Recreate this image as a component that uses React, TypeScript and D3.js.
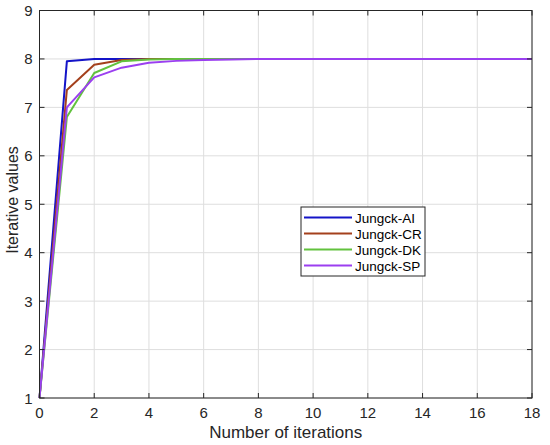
import { useEffect, useRef } from "react"
import * as d3 from "d3"

const iterations = [0, 1, 2, 3, 4, 5, 6, 7, 8, 9, 10, 11, 12, 13, 14, 15, 16, 17, 18]
const jungckAI = [1, 7.95, 8.0, 8.0, 8.0, 8.0, 8.0, 8.0, 8.0, 8.0, 8.0, 8.0, 8.0, 8.0, 8.0, 8.0, 8.0, 8.0, 8.0]
const jungckCR = [1, 7.36, 7.88, 7.98, 8.0, 8.0, 8.0, 8.0, 8.0, 8.0, 8.0, 8.0, 8.0, 8.0, 8.0, 8.0, 8.0, 8.0, 8.0]
const jungckDK = [1, 6.8, 7.71, 7.95, 7.99, 8.0, 8.0, 8.0, 8.0, 8.0, 8.0, 8.0, 8.0, 8.0, 8.0, 8.0, 8.0, 8.0, 8.0]
const jungckSP = [1, 7.0, 7.62, 7.82, 7.92, 7.96, 7.98, 7.99, 8.0, 8.0, 8.0, 8.0, 8.0, 8.0, 8.0, 8.0, 8.0, 8.0, 8.0]

const xTicks = [0, 2, 4, 6, 8, 10, 12, 14, 16, 18]
const yTicks = [1, 2, 3, 4, 5, 6, 7, 8, 9]

const series = [
  { label: "Jungck-AI", values: jungckAI, color: "#1414c8" },
  { label: "Jungck-CR", values: jungckCR, color: "#a4401c" },
  { label: "Jungck-DK", values: jungckDK, color: "#62c23e" },
  { label: "Jungck-SP", values: jungckSP, color: "#9b3ff0" },
]

export default function App() {
  const svgRef = useRef<SVGSVGElement>(null)

  useEffect(() => {
    if (!svgRef.current) return
    const svg = d3.select(svgRef.current)
    svg.selectAll("*").remove()

    const left = 39.5
    const right = 532
    const top = 10.5
    const bottom = 398
    const axisColor = "#262626"
    const font = "'Liberation Sans', Arial, sans-serif"

    const x = d3.scaleLinear().domain([0, 18]).range([left, right])
    const y = d3.scaleLinear().domain([1, 9]).range([bottom, top])

    svg.append("rect").attr("width", 550).attr("height", 445).attr("fill", "white")

    // grid
    svg
      .selectAll(".gx")
      .data(xTicks)
      .enter()
      .append("line")
      .attr("x1", (d) => x(d))
      .attr("x2", (d) => x(d))
      .attr("y1", top)
      .attr("y2", bottom)
      .attr("stroke", "#dedede")
      .attr("stroke-width", 1)

    svg
      .selectAll(".gy")
      .data(yTicks)
      .enter()
      .append("line")
      .attr("x1", left)
      .attr("x2", right)
      .attr("y1", (d) => y(d))
      .attr("y2", (d) => y(d))
      .attr("stroke", "#dedede")
      .attr("stroke-width", 1)

    // lines
    series.forEach((s) => {
      const line = d3
        .line<number>()
        .x((_, i) => x(iterations[i]))
        .y((d) => y(d))
      svg
        .append("path")
        .datum(s.values)
        .attr("fill", "none")
        .attr("stroke", s.color)
        .attr("stroke-width", 2)
        .attr("stroke-linejoin", "round")
        .attr("d", line)
    })

    // box
    svg
      .append("rect")
      .attr("x", left)
      .attr("y", top)
      .attr("width", right - left)
      .attr("height", bottom - top)
      .attr("fill", "none")
      .attr("stroke", axisColor)
      .attr("stroke-width", 1)

    // ticks (inward, all sides)
    const tl = 5
    xTicks.forEach((t) => {
      svg.append("line").attr("x1", x(t)).attr("x2", x(t)).attr("y1", bottom).attr("y2", bottom - tl).attr("stroke", axisColor)
      svg.append("line").attr("x1", x(t)).attr("x2", x(t)).attr("y1", top).attr("y2", top + tl).attr("stroke", axisColor)
    })
    yTicks.forEach((t) => {
      svg.append("line").attr("x1", left).attr("x2", left + tl).attr("y1", y(t)).attr("y2", y(t)).attr("stroke", axisColor)
      svg.append("line").attr("x1", right).attr("x2", right - tl).attr("y1", y(t)).attr("y2", y(t)).attr("stroke", axisColor)
    })

    svg
      .selectAll(".xl")
      .data(xTicks)
      .enter()
      .append("text")
      .attr("x", (d) => x(d))
      .attr("y", bottom + 20)
      .attr("text-anchor", "middle")
      .style("font-family", font)
      .style("font-size", "15px")
      .style("fill", axisColor)
      .text((d) => d)

    svg
      .selectAll(".yl")
      .data(yTicks)
      .enter()
      .append("text")
      .attr("x", left - 7)
      .attr("y", (d) => y(d) + 5.5)
      .attr("text-anchor", "end")
      .style("font-family", font)
      .style("font-size", "15px")
      .style("fill", axisColor)
      .text((d) => d)

    svg
      .append("text")
      .attr("x", (left + right) / 2)
      .attr("y", 438)
      .attr("text-anchor", "middle")
      .style("font-family", font)
      .style("font-size", "17px")
      .style("fill", axisColor)
      .text("Number of iterations")

    svg
      .append("text")
      .attr("transform", `translate(18, 200) rotate(-90)`)
      .attr("text-anchor", "middle")
      .style("font-family", font)
      .style("font-size", "16px")
      .style("fill", axisColor)
      .text("Iterative values")

    // legend
    const legend = svg.append("g").attr("transform", "translate(301, 207)")
    legend
      .append("rect")
      .attr("width", 124)
      .attr("height", 69)
      .attr("fill", "white")
      .attr("stroke", axisColor)
      .attr("stroke-width", 1)

    const item = legend
      .selectAll(".li")
      .data(series)
      .enter()
      .append("g")
      .attr("transform", (_, i) => `translate(0, ${10.5 + i * 16})`)

    item
      .append("line")
      .attr("x1", 3)
      .attr("x2", 51)
      .attr("stroke", (d) => d.color)
      .attr("stroke-width", 2)

    item
      .append("text")
      .attr("x", 54)
      .attr("y", 5)
      .style("font-family", font)
      .style("font-size", "13.5px")
      .style("fill", "#000")
      .text((d) => d.label)
  }, [])

  return (
    <div style={{ position: "absolute", left: 0, top: 0 }}>
      <svg ref={svgRef} width={550} height={445} style={{ display: "block" }}></svg>
    </div>
  )
}
